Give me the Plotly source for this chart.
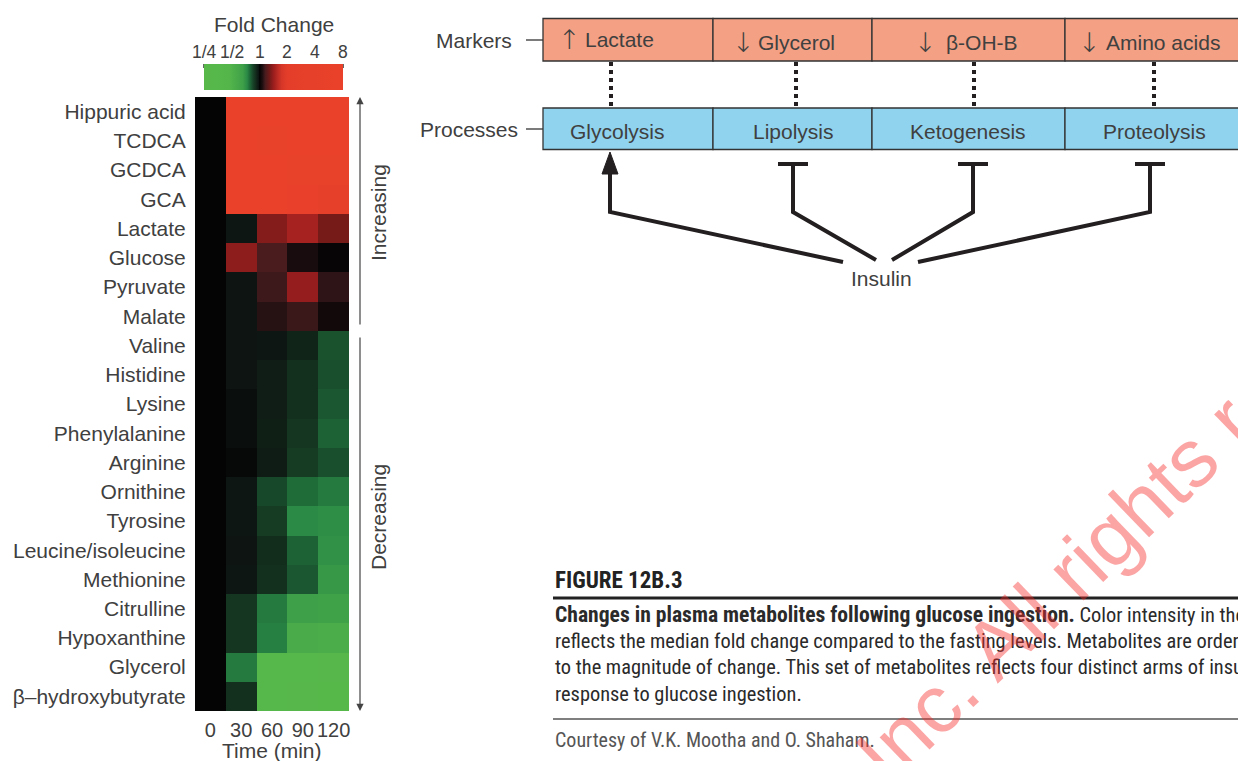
import numpy as np
import plotly.graph_objects as go

W, H = 1238, 761

# ---------------- heat map data ----------------
metabolites = [
    "Hippuric acid", "TCDCA", "GCDCA", "GCA", "Lactate", "Glucose", "Pyruvate",
    "Malate", "Valine", "Histidine", "Lysine", "Phenylalanine", "Arginine",
    "Ornithine", "Tyrosine", "Leucine/isoleucine", "Methionine", "Citrulline",
    "Hypoxanthine", "Glycerol", "β–hydroxybutyrate",
]
time_labels = ["0", "30", "60", "90", "120"]

# median log2 fold change relative to fasting, one list per time point (min)
log2fc_t0 = [0, 0, 0, 0, 0, 0, 0, 0, 0, 0, 0, 0, 0, 0, 0, 0, 0, 0, 0, 0, 0]
log2fc_t30 = [2.7, 2.6, 2.6, 2.5, -0.04, 0.45, -0.03, -0.03, -0.03, -0.03, -0.02,
              -0.02, -0.01, -0.04, -0.04, -0.03, -0.04, -0.18, -0.18, -0.40, -0.15]
log2fc_t60 = [2.9, 2.8, 2.7, 2.5, 0.42, 0.22, 0.18, 0.12, -0.04, -0.07, -0.07,
              -0.08, -0.06, -0.25, -0.20, -0.14, -0.15, -0.40, -0.42, -1.5, -1.5]
log2fc_t90 = [2.9, 2.9, 2.8, 2.2, 0.55, 0.08, 0.48, 0.17, -0.10, -0.15, -0.15,
              -0.18, -0.20, -0.36, -0.45, -0.33, -0.30, -0.60, -0.85, -1.6, -1.7]
log2fc_t120 = [3.0, 2.9, 2.8, 2.0, 0.38, 0.01, 0.14, 0.05, -0.28, -0.27, -0.30,
               -0.33, -0.27, -0.40, -0.48, -0.50, -0.55, -0.65, -0.90, -1.7, -1.8]

fold_tick_vals = [-2, -1, 0, 1, 2, 3]
fold_tick_text = ["1/4", "1/2", "1", "2", "4", "8"]

# ---------------- pathway diagram text ----------------
marker_arrows = ["↑", "↓", "↓", "↓"]
marker_labels = ["Lactate", "Glycerol", "β-OH-B", "Amino acids"]
process_labels = ["Glycolysis", "Lipolysis", "Ketogenesis", "Proteolysis"]

TXT = "#404040"
SANS = "Liberation Sans, Arial, sans-serif"
COND = "Roboto Condensed, Liberation Sans Narrow, Arial Narrow, sans-serif"


def X(px):
    return px / W


def Y(py):
    return 1 - py / H


z = np.array([log2fc_t0, log2fc_t30, log2fc_t60, log2fc_t90, log2fc_t120]).T

vmin, vmax = -2.0, 3.0


def pos(v):
    return (v - vmin) / (vmax - vmin)


colorscale = [
    [pos(-2.0), "rgb(88,184,74)"],
    [pos(-1.1), "rgb(84,182,74)"],
    [pos(-0.6), "rgb(62,160,72)"],
    [pos(-0.45), "rgb(42,138,70)"],
    [pos(-0.35), "rgb(30,105,56)"],
    [pos(-0.25), "rgb(24,72,42)"],
    [pos(-0.12), "rgb(18,40,26)"],
    [pos(-0.03), "rgb(13,20,18)"],
    [pos(0.0), "rgb(4,4,4)"],
    [pos(0.1), "rgb(30,14,16)"],
    [pos(0.2), "rgb(70,28,30)"],
    [pos(0.35), "rgb(110,26,24)"],
    [pos(0.5), "rgb(155,30,30)"],
    [pos(0.8), "rgb(215,55,40)"],
    [pos(1.0), "rgb(228,62,42)"],
    [pos(3.0), "rgb(234,66,42)"],
]

# colour bar geometry (pixels)
CB_X0, CB_X1, CB_Y0, CB_Y1 = 204, 343, 64, 90

fig = go.Figure()
fig.add_trace(go.Heatmap(
    z=z, x=time_labels, y=metabolites,
    zmin=vmin, zmax=vmax, colorscale=colorscale, zsmooth=False,
    hoverinfo="skip",
    colorbar=dict(
        orientation="h", thickness=CB_Y1 - CB_Y0, thicknessmode="pixels",
        len=CB_X1 - CB_X0, lenmode="pixels",
        x=X((CB_X0 + CB_X1) / 2), xanchor="center", y=Y(CB_Y1), yanchor="bottom",
        xpad=0, ypad=0, outlinewidth=0,
        tickvals=fold_tick_vals, ticks="", showticklabels=False,
    ),
))

fig.update_xaxes(
    domain=[X(195), X(349)], type="category", showgrid=False, zeroline=False,
    showline=False, ticks="outside", ticklen=1, tickcolor="rgba(0,0,0,0)",
    tickfont=dict(family=SANS, size=20, color=TXT), automargin=False,
)
fig.update_yaxes(
    domain=[Y(711), Y(97)], type="category", autorange="reversed",
    showgrid=False, zeroline=False, showline=False, ticks="outside", ticklen=4,
    tickcolor="rgba(0,0,0,0)", tickfont=dict(family=SANS, size=21, color=TXT),
    automargin=False,
)

shapes = []
ann = []


def text(x, y, s, size=21, color=TXT, family=SANS, xanchor="center",
         yanchor="middle", angle=0):
    ann.append(dict(x=X(x), y=Y(y), xref="paper", yref="paper", text=s,
                    showarrow=False, xanchor=xanchor, yanchor=yanchor,
                    textangle=angle,
                    font=dict(family=family, size=size, color=color)))


def line(x0, y0, x1, y1, color="#222", width=1, dash="solid"):
    shapes.append(dict(type="line", xref="paper", yref="paper",
                       x0=X(x0), y0=Y(y0), x1=X(x1), y1=Y(y1),
                       line=dict(color=color, width=width, dash=dash)))


def path(pts, color="#231f20", width=4, fill=None):
    d = "M " + " L ".join(f"{X(a):.5f},{Y(b):.5f}" for a, b in pts)
    if fill:
        d += " Z"
    shapes.append(dict(type="path", xref="paper", yref="paper", path=d,
                       line=dict(color=color, width=width),
                       fillcolor=fill if fill else "rgba(0,0,0,0)"))


# ---- colour bar labels and tick marks ----
text((CB_X0 + CB_X1) / 2, 24, "Fold Change", size=21)
for v, lab in zip(fold_tick_vals, fold_tick_text):
    tx = CB_X0 + (v - vmin) / (vmax - vmin) * (CB_X1 - CB_X0)
    text(tx, 52, lab, size=17.5)
    line(tx, CB_Y0, tx, CB_Y0 + 4, color="#333", width=1.5)

# ---- heat map axis title ----
text(272, 750, "Time (min)", size=21)

# increasing / decreasing brackets
ann.append(dict(x=X(360), y=Y(97), xref="paper", yref="paper", ax=0, ay=229,
                text="", showarrow=True, arrowhead=2, arrowsize=1.2,
                arrowwidth=1.2, arrowcolor="#444"))
ann.append(dict(x=X(360), y=Y(711), xref="paper", yref="paper", ax=0, ay=-375,
                text="", showarrow=True, arrowhead=2, arrowsize=1.2,
                arrowwidth=1.2, arrowcolor="#444"))
text(378, 213, "Increasing", angle=-90)
text(378, 517, "Decreasing", angle=-90)

# ---- pathway diagram ----
edges = [543, 713, 872, 1065, 1300]
MARK_FILL = "#f4a084"
PROC_FILL = "#8fd3ef"
for i in range(4):
    shapes.append(dict(type="rect", xref="paper", yref="paper",
                       x0=X(edges[i]), x1=X(edges[i + 1]), y0=Y(61), y1=Y(18.5),
                       fillcolor=MARK_FILL, line=dict(color="#333", width=1.3)))
    shapes.append(dict(type="rect", xref="paper", yref="paper",
                       x0=X(edges[i]), x1=X(edges[i + 1]), y0=Y(149.5), y1=Y(108),
                       fillcolor=PROC_FILL, line=dict(color="#333", width=1.3)))

arrow_x = [569, 743, 925, 1089]
marker_x0 = [583, 756, 944, 1104]
marker_cy = [40, 43, 43, 43]
process_cx = [617, 793, 968, 1154]
link_x = [611, 796, 974, 1154]
for i in range(4):
    text(arrow_x[i], marker_cy[i], marker_arrows[i], size=27,
         family="DejaVu Sans Light, Liberation Sans, sans-serif")
    text(marker_x0[i], marker_cy[i], marker_labels[i], xanchor="left")
    text(process_cx[i], 131, process_labels[i])
    line(link_x[i], 62, link_x[i], 107, color="#231f20", width=4, dash="dot")

text(514, 41, "Markers", xanchor="right")
line(526, 40, 543, 40, color="#333", width=1.3)
text(520, 129, "Processes", xanchor="right")
line(526, 129, 543, 129, color="#333", width=1.3)

# insulin acts on the four processes
path([(843, 262), (610, 212), (610, 172)])
path([(602, 174), (618, 174), (610, 152)], width=1, fill="#231f20")
path([(876, 260), (793, 212), (793, 164)])
path([(778, 164), (808, 164)])
path([(892, 260), (973, 212), (973, 164)])
path([(958, 164), (988, 164)])
path([(918, 262), (1150, 212), (1150, 164)])
path([(1135, 164), (1165, 164)])
text(881, 278, "Insulin", size=21)

# ---- caption ----
text(553, 580, "<b>FIGURE 12B.3</b>", size=23, family=COND, color="#222",
     xanchor="left")
line(553, 598, 1300, 598, color="#222", width=3)
caption = [
    "<b><span style='font-size:21.6px'>Changes in plasma metabolites "
    "following glucose ingestion.</span></b> Color intensity in the heat map",
    "reflects the median fold change compared to the fasting levels. "
    "Metabolites are ordered according",
    "to the magnitude of change. This set of metabolites reflects four "
    "distinct arms of insulin action in",
    "response to glucose ingestion.",
]
for k, s in enumerate(caption):
    text(553, 614 + k * 26.7, s, size=20.4, family=COND, color="#2a2a2a",
         xanchor="left")
line(553, 719, 1300, 719, color="#555", width=1.5)
text(553, 740, "Courtesy of V.K. Mootha and O. Shaham.", size=20, family=COND,
     color="#555", xanchor="left")

# watermark
ann.append(dict(x=X(1084), y=Y(560), xref="paper", yref="paper",
                text="Sons, Inc. All rights reserved.", showarrow=False,
                textangle=-44, xanchor="center", yanchor="middle",
                font=dict(family=SANS, size=82, color="rgba(245,40,40,0.42)")))

fig.update_layout(
    width=W, height=H, template="none",
    paper_bgcolor="white", plot_bgcolor="white",
    margin=dict(l=0, r=0, t=0, b=0, pad=0, autoexpand=False),
    showlegend=False, shapes=shapes, annotations=ann,
)

fig.write_html("out.html")
